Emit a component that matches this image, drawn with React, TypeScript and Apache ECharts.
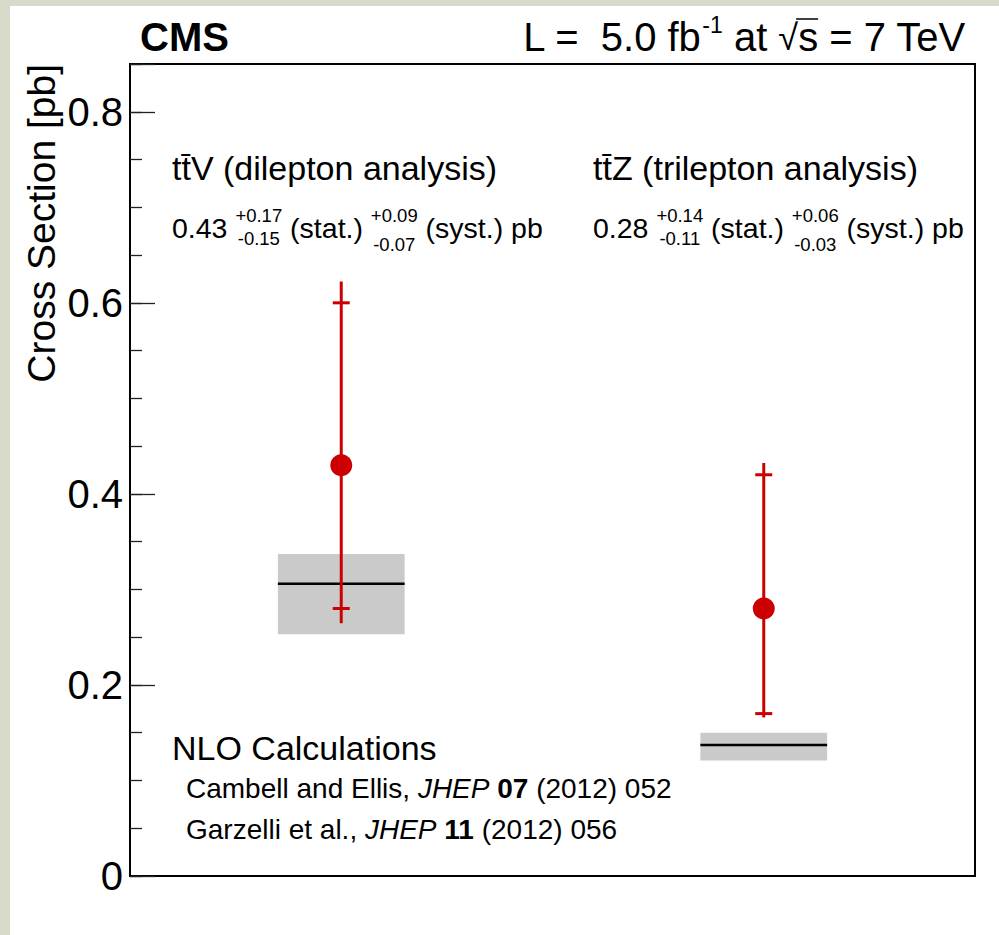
import React, { useEffect, useRef } from "react";
import * as echarts from "echarts";

// ---- data ----
const categories = ["ttV (dilepton analysis)", "ttZ (trilepton analysis)"];
const xPositions = [1, 3];
const measured = [0.43, 0.28];
const statUp = [0.17, 0.14];
const statDown = [0.15, 0.11];
const systUp = [0.09, 0.06];
const systDown = [0.07, 0.03];
const nloCentral = [0.306, 0.137];
const nloLow = [0.253, 0.121];
const nloHigh = [0.337, 0.15];
const yTickLabels = ["0", "0.2", "0.4", "0.6", "0.8"];

const FONT = '"Liberation Sans", Arial, Helvetica, sans-serif';
const RED = "#cc0000";
const BAND_HALF = 0.3;

export default function App() {
  const ref = useRef<HTMLDivElement>(null);

  useEffect(() => {
    const chart = echarts.init(ref.current!, null, { renderer: "svg" });
    const canvas = document.createElement("canvas");
    const ctx = canvas.getContext("2d")!;
    const measure = (t: string, size: number, weight = "normal", style = "normal") => {
      ctx.font = `${style} ${weight} ${size}px "Liberation Sans"`;
      return ctx.measureText(t).width;
    };
    const txt = (text: string, x: number, y: number, size: number, o: any = {}) => ({
      type: "text",
      x,
      y,
      z: 100,
      rotation: o.rotation || 0,
      style: {
        text,
        fontSize: size,
        fontFamily: FONT,
        fontWeight: o.weight || "normal",
        fontStyle: o.style || "normal",
        fill: "#000",
        align: o.align || "left",
        textAlign: o.align || "left",
        verticalAlign: "middle",
        textVerticalAlign: "middle",
      },
    });
    const layout = (x0: number, yc: number, segs: any[], anchorRight = false) => {
      const widths = segs.map((s) =>
        "top" in s
          ? Math.max(measure(s.top, s.size), measure(s.bot, s.size))
          : measure(s.t, s.size, s.weight, s.style)
      );
      const total = widths.reduce((a: number, b: number) => a + b, 0);
      let x = anchorRight ? x0 - total : x0;
      const els: any[] = [];
      const xs: number[] = [];
      segs.forEach((s, i) => {
        xs.push(x);
        if ("top" in s) {
          const c = x + widths[i] / 2;
          els.push(txt(s.top, c, yc + s.dyTop, s.size, { align: "center" }));
          els.push(txt(s.bot, c, yc + s.dyBot, s.size, { align: "center" }));
        } else {
          els.push(txt(s.t, x, yc + (s.dy || 0), s.size, { weight: s.weight, style: s.style }));
        }
        x += widths[i];
      });
      return { els, xs, widths };
    };

    const measLine = (i: number, x0: number) =>
      layout(x0, 228, [
        { t: measured[i].toFixed(2) + " ", size: 28.5 },
        { top: "+" + statUp[i].toFixed(2), bot: "-" + statDown[i].toFixed(2), size: 18.5, dyTop: -13, dyBot: 10 },
        { t: " (stat.) ", size: 28.5 },
        { top: "+" + systUp[i].toFixed(2), bot: "-" + systDown[i].toFixed(2), size: 18.5, dyTop: -13, dyBot: 16 },
        { t: " (syst.) pb", size: 28.5 },
      ]).els;

    const header = layout(966, 37, [
      { t: "L =  5.0 fb", size: 40 },
      { t: "-1", size: 23, dy: -12 },
      { t: " at ", size: 40 },
      { t: "√", size: 36 },
      { t: "s", size: 40 },
      { t: " = 7 TeV", size: 40 },
    ], true);
    const sx = header.xs[4];
    const sw = header.widths[4];

    const ref1 = layout(186, 788, [
      { t: "Cambell and Ellis, ", size: 28 },
      { t: "JHEP ", size: 28, style: "italic" },
      { t: "07", size: 28, weight: "bold" },
      { t: " (2012) 052", size: 28 },
    ]).els;
    const ref2 = layout(186, 829, [
      { t: "Garzelli et al., ", size: 28 },
      { t: "JHEP ", size: 28, style: "italic" },
      { t: "11", size: 28, weight: "bold" },
      { t: " (2012) 056", size: 28 },
    ]).els;

    const graphics: any[] = [
      { type: "rect", z: 0, shape: { x: 0, y: 0, width: 999, height: 6 }, style: { fill: "#d8dbca" } },
      { type: "rect", z: 0, shape: { x: 0, y: 0, width: 10, height: 935 }, style: { fill: "#d8dbca" } },
      txt("CMS", 140, 37, 40, { weight: "bold" }),
      ...header.els,
      { type: "line", z: 100, shape: { x1: sx - 2, y1: 19, x2: sx + sw, y2: 19 }, style: { stroke: "#000", lineWidth: 1.5 } },
      txt("Cross Section [pb]", 41, 64, 39, { align: "right", rotation: Math.PI / 2 }),
      txt("tt\u0304V (dilepton analysis)", 172, 168, 34),
      txt("tt\u0304Z (trilepton analysis)", 593, 168, 34),
      ...measLine(0, 172),
      ...measLine(1, 593),
      txt("NLO Calculations", 172, 748, 34),
      ...ref1,
      ...ref2,
    ];

    const bandData = xPositions.map((x, i) => [x, nloLow[i], nloHigh[i], nloCentral[i]]);
    const errData = xPositions.map((x, i) => [
      x,
      measured[i] - Math.sqrt(statDown[i] ** 2 + systDown[i] ** 2),
      measured[i] + Math.sqrt(statUp[i] ** 2 + systUp[i] ** 2),
      measured[i] - statDown[i],
      measured[i] + statUp[i],
    ]);
    const pointData = xPositions.map((x, i) => [x, measured[i]]);

    const option: any = {
      animation: false,
      backgroundColor: "#ffffff",
      grid: { left: 130, top: 64, right: 24, bottom: 59, show: true, borderColor: "#000", borderWidth: 2, backgroundColor: "transparent" },
      xAxis: {
        type: "value",
        min: 0,
        max: 4,
        axisLine: { show: true, onZero: false, lineStyle: { color: "#000", width: 2 } },
        axisTick: { show: false },
        axisLabel: { show: false },
        splitLine: { show: false },
      },
      yAxis: [
        {
          type: "value",
          min: 0,
          max: 0.85,
          interval: 0.2,
          axisLine: { show: true, onZero: false, lineStyle: { color: "#000", width: 2 } },
          axisTick: { show: true, inside: true, length: 25, lineStyle: { color: "#222", width: 1.3 } },
          axisLabel: {
            fontSize: 40,
            fontFamily: FONT,
            color: "#000",
            margin: 7,
            formatter: (v: number) => {
              const k = Math.round(v / 0.2);
              return Math.abs(v - k * 0.2) < 1e-6 && k < yTickLabels.length ? yTickLabels[k] : "";
            },
          },
          splitLine: { show: false },
        },
        {
          type: "value",
          min: 0,
          max: 0.85,
          interval: 0.05,
          position: "left",
          axisLine: { show: false },
          axisTick: { show: true, inside: true, length: 12, lineStyle: { color: "#222", width: 1.3 } },
          axisLabel: { show: false },
          splitLine: { show: false },
        },
      ],
      graphic: graphics,
      series: [
        {
          type: "custom",
          name: "NLO",
          data: bandData,
          encode: { x: 0, y: [1, 2, 3] },
          z: 1,
          renderItem: (_p: any, api: any) => {
            const x = api.value(0);
            const lo = api.value(1);
            const hi = api.value(2);
            const c = api.value(3);
            const p1 = api.coord([x - BAND_HALF, hi]);
            const p2 = api.coord([x + BAND_HALF, lo]);
            const c1 = api.coord([x - BAND_HALF, c]);
            const c2 = api.coord([x + BAND_HALF, c]);
            return {
              type: "group",
              children: [
                { type: "rect", shape: { x: p1[0], y: p1[1], width: p2[0] - p1[0], height: p2[1] - p1[1] }, style: { fill: "#cacaca" } },
                { type: "line", shape: { x1: c1[0], y1: c1[1], x2: c2[0], y2: c2[1] }, style: { stroke: "#000", lineWidth: 2.5 } },
              ],
            };
          },
        },
        {
          type: "custom",
          name: "errors",
          data: errData,
          encode: { x: 0, y: [1, 2, 3, 4] },
          z: 2,
          renderItem: (_p: any, api: any) => {
            const x = api.value(0);
            const lo = api.coord([x, api.value(1)]);
            const hi = api.coord([x, api.value(2)]);
            const sLo = api.coord([x, api.value(3)]);
            const sHi = api.coord([x, api.value(4)]);
            const st = { stroke: RED, lineWidth: 3 };
            return {
              type: "group",
              children: [
                { type: "line", shape: { x1: lo[0], y1: lo[1], x2: hi[0], y2: hi[1] }, style: st },
                { type: "line", shape: { x1: sLo[0] - 8.5, y1: sLo[1], x2: sLo[0] + 8.5, y2: sLo[1] }, style: st },
                { type: "line", shape: { x1: sHi[0] - 8.5, y1: sHi[1], x2: sHi[0] + 8.5, y2: sHi[1] }, style: st },
              ],
            };
          },
        },
        {
          type: "scatter",
          name: categories.join(" / "),
          data: pointData,
          symbol: "circle",
          symbolSize: 22,
          z: 3,
          itemStyle: { color: RED, opacity: 1 },
        },
      ],
    };
    chart.setOption(option);
    return () => chart.dispose();
  }, []);

  return (
    <div
      ref={ref}
      style={{ position: "absolute", left: 0, top: 0, width: 999, height: 935, background: "#fff" }}
    />
  );
}
